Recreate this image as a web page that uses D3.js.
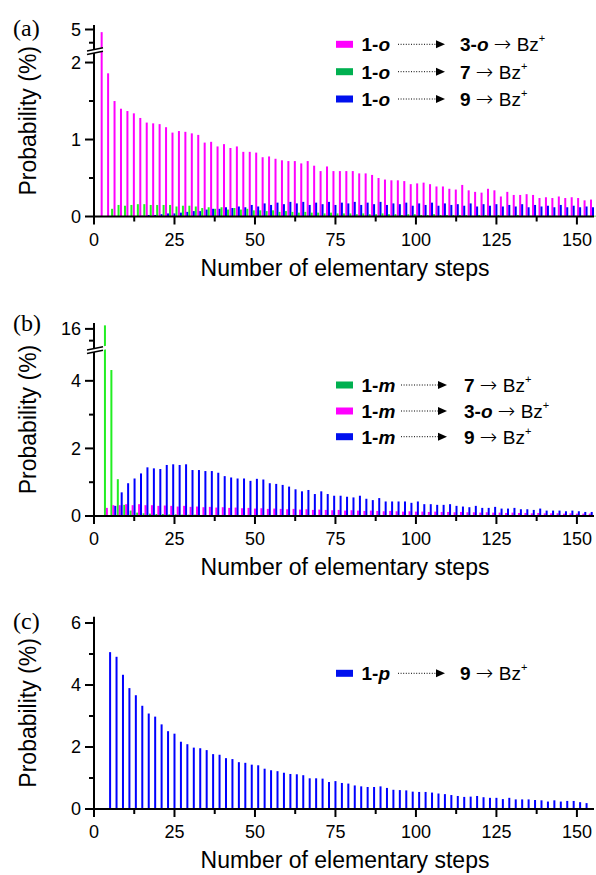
<!DOCTYPE html>
<html>
<head>
<meta charset="utf-8">
<script src="https://cdn.jsdelivr.net/npm/d3@7"></script>
<style>
  body { margin: 0; background: #fff; }
  text { font-family: "Liberation Sans", Arial, sans-serif; fill: #000; }
  .panel-label { font-family: "Liberation Serif", "Times New Roman", serif; font-size: 24px; }
  .tick-label { font-size: 18px; }
  .axis-title { font-size: 23px; }
  .leg { font-size: 19px; }
</style>
</head>
<body>
<script>
/************ data ************/
// panel (a): 1-o, group steps
var stepsA = [3,5,7,9,11,13,15,17,19,21,23,25,27,29,31,33,35,37,39,41,43,45,47,49,51,53,55,57,59,61,63,
  65,67,69,71,73,75,77,79,81,83,85,87,89,91,93,95,97,99,101,103,105,107,109,111,113,115,117,119,121,123,
  125,127,129,131,133,135,137,139,141,143,145,147,149,151,153,155];
var aMagenta = [4.9,1.86,1.50,1.40,1.37,1.34,1.28,1.22,1.21,1.20,1.16,1.09,1.11,1.10,1.08,1.06,0.96,0.97,0.91,0.94,0.89,0.91,0.84,0.84,0.83,0.77,0.78,0.75,0.73,0.72,0.72,
  0.69,0.72,0.66,0.59,0.65,0.59,0.59,0.59,0.59,0.56,0.56,0.54,0.50,0.48,0.47,0.47,0.46,0.42,0.43,0.44,
  0.42,0.39,0.39,0.36,0.35,0.41,0.34,0.32,0.31,0.36,0.34,0.26,0.32,0.28,0.28,0.29,0.28,0.24,0.25,0.24,
  0.26,0.24,0.25,0.24,0.21,0.22];
var aGreen = [0,0.10,0.15,0.14,0.15,0.16,0.16,0.15,0.15,0.15,0.15,0.13,0.14,0.14,0.13,0.11,0.12,0.10,0.12,0.09,0.11,0.09,0.10,0.08,0.08,0.07,0.08,0.06,0.07,0.06,0.05,
  0.06,0.05,0.05,0.04,0.05,0.04,0.04,0.04,0.03,0.04,0.03,0.03,0.04,0.03,0.03,0.02,0.03,0.03,0.02,0.02,
  0.03,0.02,0.02,0.02,0.02,0.02,0.01,0.02,0.02,0.01,0.02,0.01,0.01,0.02,0.01,0.01,0.01,0.01,0.01,0.01,
  0.01,0.01,0.01,0.01,0.01,0.01];
var aBlue = [0,0,0,0,0,0,0.01,0.02,0.02,0.03,0.04,0.04,0.05,0.06,0.07,0.07,0.09,0.10,0.10,0.12,0.11,0.13,0.12,0.15,0.13,0.17,0.15,0.18,0.16,0.19,0.17,
  0.19,0.15,0.18,0.16,0.19,0.15,0.18,0.17,0.19,0.15,0.18,0.16,0.19,0.15,0.17,0.16,0.18,0.14,0.17,0.15,
  0.18,0.14,0.17,0.15,0.16,0.14,0.17,0.13,0.16,0.14,0.16,0.13,0.15,0.13,0.16,0.12,0.15,0.13,0.14,0.12,
  0.15,0.12,0.14,0.12,0.13,0.12];

// panel (b): 1-m
var stepsB = [4,6,8,10,12,14,16,18,20,22,24,26,28,30,32,34,36,38,40,42,44,46,48,50,52,54,56,58,60,62,
  64,66,68,70,72,74,76,78,80,82,84,86,88,90,92,94,96,98,100,102,104,106,108,110,112,114,116,118,120,122,
  124,126,128,130,132,134,136,138,140,142,144,146,148,150,152,154];
var bGreen = [16.3,4.32,1.09,0.33,0.16,0.10,0.08,0.07,0.06,0.06,0.05,0.05,0.04,0.04,0.04,0.03,0.03,0.03,0.03,0.02,
  0.02,0.02,0.02,0.02,0.02,0.02,0.02,0.02,0.02,0.02,0.01,0.01,0.01,0.01,0.01,0.01,0.01,0.01,0.01,0.01,
  0.01,0.01,0.01,0.01,0.01,0.01,0.01,0.01,0.01,0.01,0.01,0.01,0.01,0.01,0.01,0.01,0.01,0.01,0.01,0.01,
  0.01,0.01,0.01,0.01,0.01,0.01,0.01,0.01,0.01,0.01,0.01,0.01,0.01,0.01,0.01,0.01];
var bMagenta = [0.24,0.32,0.32,0.35,0.32,0.35,0.32,0.32,0.30,0.31,0.30,0.28,0.30,0.27,0.28,0.26,0.27,0.25,0.26,0.24,0.25,0.23,0.24,0.22,0.23,0.21,0.22,0.21,0.20,0.21,
  0.19,0.20,0.18,0.19,0.18,0.17,0.18,0.16,0.17,0.16,0.15,0.16,0.15,0.14,0.15,0.14,0.13,0.14,0.13,0.13,
  0.12,0.13,0.12,0.12,0.11,0.12,0.11,0.11,0.10,0.11,0.10,0.10,0.09,0.10,0.09,0.09,0.08,0.09,0.08,0.08,
  0.08,0.07,0.08,0.07,0.07,0.07];
var bBlue = [0,0.30,0.70,0.97,1.11,1.26,1.44,1.41,1.39,1.51,1.53,1.51,1.53,1.36,1.36,1.33,1.33,1.28,1.18,1.14,1.11,1.11,1.04,1.10,1.08,0.97,0.95,0.92,0.87,0.79,
  0.73,0.77,0.65,0.73,0.65,0.60,0.60,0.57,0.55,0.60,0.51,0.47,0.53,0.43,0.43,0.43,0.43,0.39,0.43,0.35,
  0.35,0.33,0.33,0.35,0.30,0.28,0.26,0.30,0.24,0.24,0.27,0.22,0.22,0.24,0.20,0.20,0.18,0.22,0.16,0.16,
  0.16,0.14,0.16,0.14,0.12,0.12];

// panel (c): 1-p
var stepsC = [5,7,9,11,13,15,17,19,21,23,25,27,29,31,33,35,37,39,41,43,45,47,49,51,53,55,57,59,61,63,
  65,67,69,71,73,75,77,79,81,83,85,87,89,91,93,95,97,99,101,103,105,107,109,111,113,115,117,119,121,123,
  125,127,129,131,133,135,137,139,141,143,145,147,149,151,153];
var cBlue = [5.06,4.91,4.33,3.90,3.67,3.33,3.08,2.98,2.73,2.51,2.43,2.17,2.09,1.98,1.96,1.90,1.77,1.75,1.64,1.61,1.51,1.49,1.43,1.41,1.30,1.25,1.22,1.17,1.13,1.12,
  1.09,0.99,0.99,0.98,0.87,0.90,0.84,0.82,0.76,0.73,0.71,0.71,0.73,0.68,0.62,0.61,0.60,0.56,0.55,0.55,
  0.53,0.50,0.48,0.45,0.42,0.39,0.40,0.42,0.38,0.36,0.36,0.32,0.36,0.31,0.31,0.31,0.29,0.28,0.24,0.28,
  0.24,0.26,0.26,0.22,0.19];

var xTicks = [0,25,50,75,100,125,150];
var xMinorTicks = [12.5,37.5,62.5,87.5,112.5,137.5];

/************ layout ************/
var W = 596, H = 875;
var left = 94, right = 593;
var magenta = "#ff00ff", green = "#22ee22", blue = "#0000ff";
var greenKey = "#00b050", blueKey = "#0010ee";
var barW = 2;

var svg = d3.select("body").append("svg")
  .attr("width", W).attr("height", H);

var x = d3.scaleLinear().domain([0, 155]).range([left, right]);

var panels = [
  {
    label: "(a)", labelY: 36, base: 216.5,
    lower: { domain: [0, 2.12], top: 53.3, ticks: [0,1,2], minor: [0.5,1.5] },
    upper: { domain: [4.3, 5.17], range: [48, 25], ticks: [5], minor: [4.5] },
    breakY: 51.5,
    series: [
      { steps: stepsA, values: aMagenta, color: magenta, off: -0.62 },
      { steps: stepsA, values: aBlue, color: blue, off: 0 },
      { steps: stepsA, values: aGreen, color: green, off: 0.62 }
    ],
    legendY: [44.3, 71.7, 99], legendArrow: [398, 445], legendTo: 460,
    legend: [
      { color: magenta, from: "o", to: "3-o" },
      { color: greenKey, from: "o", to: "7" },
      { color: blueKey, from: "o", to: "9" }
    ]
  },
  {
    label: "(b)", labelY: 331, base: 516,
    lower: { domain: [0, 4.8], top: 353.8, ticks: [0,2,4], minor: [1,3] },
    upper: { domain: [14.46, 16.5], range: [347, 323], ticks: [16], minor: [15] },
    breakY: 350.5,
    series: [
      { steps: stepsB, values: bGreen, color: green, off: -0.6 },
      { steps: stepsB, values: bMagenta, color: magenta, off: 0 },
      { steps: stepsB, values: bBlue, color: blue, off: 0.6 }
    ],
    legendY: [385, 411, 436.7], legendArrow: [401, 447], legendTo: 464,
    legend: [
      { color: greenKey, from: "m", to: "7" },
      { color: magenta, from: "m", to: "3-o" },
      { color: blueKey, from: "m", to: "9" }
    ]
  },
  {
    label: "(c)", labelY: 629, base: 809,
    lower: { domain: [0, 6.2], top: 616.8, ticks: [0,2,4,6], minor: [1,3,5] },
    upper: null,
    series: [
      { steps: stepsC, values: cBlue, color: blue, off: 0 }
    ],
    legendY: [673.3], legendArrow: [398, 445], legendTo: 460,
    legend: [
      { color: blueKey, from: "p", to: "9" }
    ]
  }
];

panels.forEach(drawPanel);

function drawPanel(p) {
  var g = svg.append("g");
  var yLow = d3.scaleLinear().domain(p.lower.domain).range([p.base, p.lower.top]);
  var yUp = p.upper ? d3.scaleLinear().domain(p.upper.domain).range(p.upper.range) : null;
  var y = function(v) {
    if (yUp && v > p.lower.domain[1]) return yUp(Math.min(v, p.upper.domain[1]));
    return yLow(v);
  };

  // bars
  p.series.forEach(function(s) {
    g.append("g").selectAll("rect")
      .data(s.steps.map(function(n, i) { return { n: n, v: s.values[i] }; })
        .filter(function(d) { return d.v > 0; }))
      .enter().append("rect")
        .attr("x", function(d) { return x(d.n + s.off) - barW / 2; })
        .attr("width", barW)
        .attr("y", function(d) { return y(d.v); })
        .attr("height", function(d) { return p.base - y(d.v); })
        .attr("fill", s.color);
  });

  // x axis
  var xAxis = g.append("g").attr("transform", "translate(0," + p.base + ")");
  xAxis.append("line").attr("x1", left).attr("x2", right + 1)
    .attr("stroke", "#000").attr("stroke-width", 2);
  xAxis.selectAll(".maj").data(xTicks).enter().append("line")
    .attr("x1", function(d) { return x(d); }).attr("x2", function(d) { return x(d); })
    .attr("y1", 0).attr("y2", 8).attr("stroke", "#000").attr("stroke-width", 2);
  xAxis.selectAll(".min").data(xMinorTicks).enter().append("line")
    .attr("x1", function(d) { return x(d); }).attr("x2", function(d) { return x(d); })
    .attr("y1", 0).attr("y2", 5).attr("stroke", "#000").attr("stroke-width", 2);
  xAxis.selectAll(".tick-label").data(xTicks).enter().append("text")
    .attr("class", "tick-label")
    .attr("x", function(d) { return x(d); }).attr("y", 29)
    .attr("text-anchor", "middle").text(function(d) { return d; });
  g.append("text").attr("class", "axis-title")
    .attr("x", 345).attr("y", p.base + 59)
    .attr("text-anchor", "middle").text("Number of elementary steps");

  // y axis segments
  var segs = [{ sc: yLow, ticks: p.lower.ticks, minor: p.lower.minor, y1: p.base + 1, y2: p.upper ? p.breakY + 1.5 : p.lower.top }];
  if (p.upper) segs.push({ sc: yUp, ticks: p.upper.ticks, minor: p.upper.minor, y1: p.breakY - 2.5, y2: p.upper.range[1] });
  segs.forEach(function(sg) {
    g.append("line").attr("x1", left).attr("x2", left).attr("y1", sg.y1).attr("y2", sg.y2)
      .attr("stroke", "#000").attr("stroke-width", 2);
    g.append("g").selectAll("line").data(sg.ticks).enter().append("line")
      .attr("x1", left - 9).attr("x2", left)
      .attr("y1", function(d) { return sg.sc(d); }).attr("y2", function(d) { return sg.sc(d); })
      .attr("stroke", "#000").attr("stroke-width", 2);
    g.append("g").selectAll("line").data(sg.minor).enter().append("line")
      .attr("x1", left - 5).attr("x2", left)
      .attr("y1", function(d) { return sg.sc(d); }).attr("y2", function(d) { return sg.sc(d); })
      .attr("stroke", "#000").attr("stroke-width", 2);
    g.append("g").selectAll("text").data(sg.ticks).enter().append("text")
      .attr("class", "tick-label")
      .attr("x", left - 13).attr("y", function(d) { return sg.sc(d); })
      .attr("dy", "0.36em").attr("text-anchor", "end").text(function(d) { return d; });
  });

  // break marks
  if (p.upper) {
    var by = p.breakY;
    g.append("polygon")
      .attr("points", [[86, by + 3], [110, by - 2], [110, by - 5.5], [86, by - 0.5]].join(" "))
      .attr("fill", "#fff");
    [[by + 3, by - 0.3], [by - 0.5, by - 3.8]].forEach(function(l) {
      g.append("line").attr("x1", 87).attr("x2", 103).attr("y1", l[0]).attr("y2", l[1])
        .attr("stroke", "#000").attr("stroke-width", 1.5);
    });
  }

  g.append("text").attr("class", "axis-title")
    .attr("transform", "translate(36," + ((p.base + (p.upper ? p.upper.range[1] : p.lower.top)) / 2) + ") rotate(-90)")
    .attr("text-anchor", "middle").text("Probability (%)");

  g.append("text").attr("class", "panel-label")
    .attr("x", 13).attr("y", p.labelY).text(p.label);

  // legend
  p.legend.forEach(function(l, i) {
    var ly = p.legendY[i];
    g.append("rect").attr("x", 336).attr("y", ly - 3.5).attr("width", 17).attr("height", 7)
      .attr("fill", l.color);
    var t = g.append("text").attr("class", "leg").attr("x", 361.5).attr("y", ly + 7);
    t.append("tspan").attr("font-weight", "bold").text("1-");
    t.append("tspan").attr("font-weight", "bold").attr("font-style", "italic").text(l.from);
    var a = p.legendArrow;
    g.append("line").attr("x1", a[0]).attr("x2", a[1] - 8).attr("y1", ly).attr("y2", ly)
      .attr("stroke", "#000").attr("stroke-width", 1).attr("stroke-dasharray", "1,1.6");
    g.append("polygon")
      .attr("points", [[a[1] - 9, ly - 4], [a[1], ly], [a[1] - 9, ly + 4]].join(" "))
      .attr("fill", "#000");
    var t2 = g.append("text").attr("class", "leg").attr("x", p.legendTo).attr("y", ly + 7);
    var parts = l.to.split("-");
    t2.append("tspan").attr("font-weight", "bold").text(parts[0] + (parts.length > 1 ? "-" : ""));
    if (parts.length > 1) t2.append("tspan").attr("font-weight", "bold").attr("font-style", "italic").text(parts[1]);
    t2.append("tspan").text(" ");
    t2.append("tspan").attr("font-family", "'DejaVu Sans', sans-serif").attr("font-size", "21px")
      .attr("font-weight", "200").text("\u2192");
    t2.append("tspan").text(" Bz");
    t2.append("tspan").attr("font-size", "11px").attr("dy", -9).text("+");
  });
}
</script>
</body>
</html>
